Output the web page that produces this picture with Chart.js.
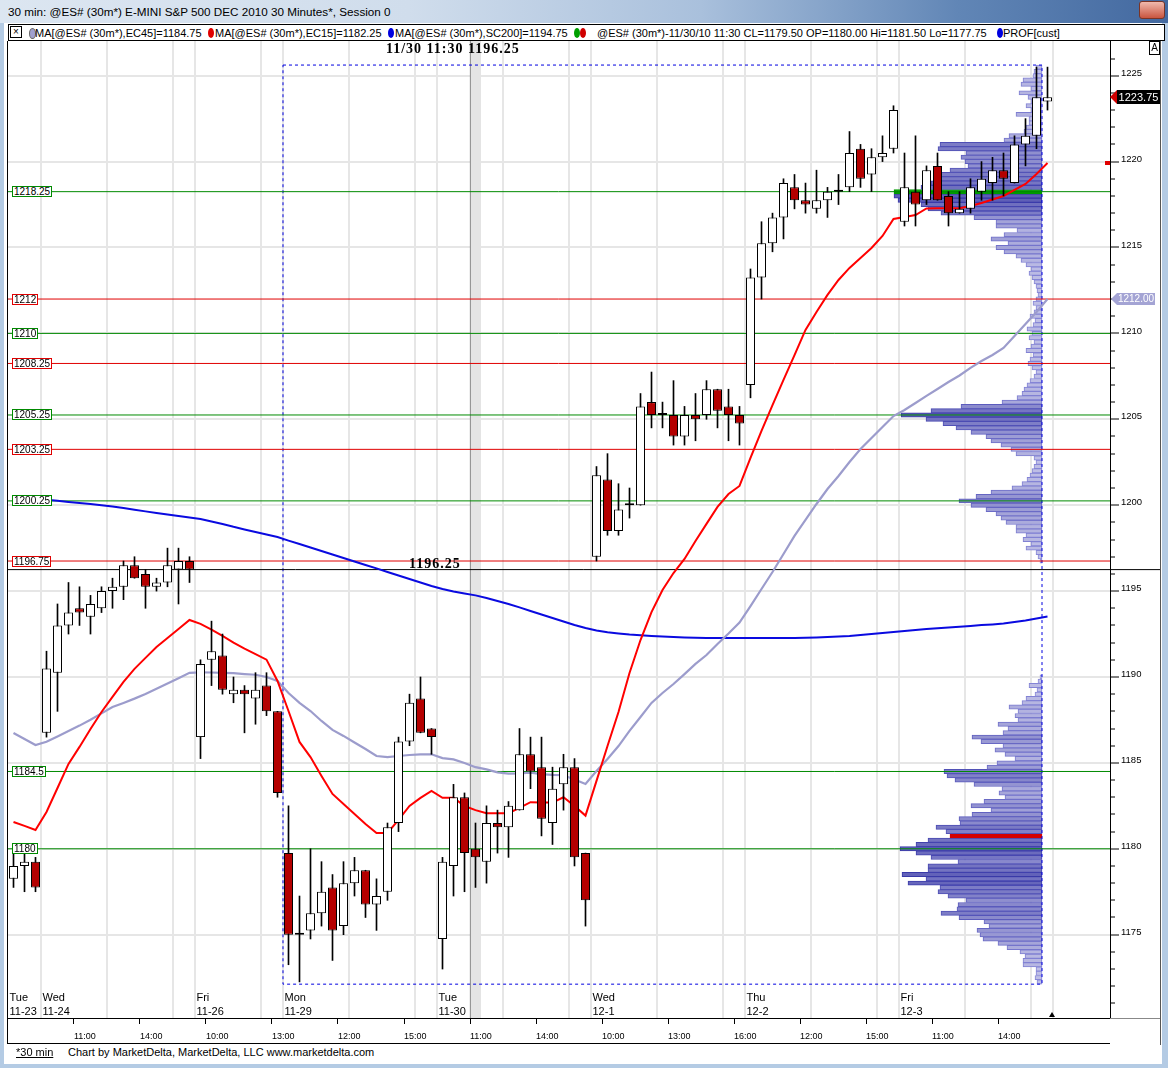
<!DOCTYPE html>
<html><head><meta charset="utf-8">
<script src="https://cdn.jsdelivr.net/npm/chart.js@4.4.1/dist/chart.umd.min.js"></script>
<style>
html,body{margin:0;padding:0;}
body{width:1168px;height:1068px;position:relative;overflow:hidden;background:#b4cbe4;font-family:"Liberation Sans",Arial,sans-serif;}
.a{position:absolute;white-space:nowrap;}
#titlebar{left:0;top:0;width:1168px;height:23px;background:linear-gradient(90deg,#dce6f1 0%,#d0ddec 35%,#a9c0dc 60%,#6186b6 82%,#4369a0 100%);}
#closebtn{left:1139px;top:1px;width:24px;height:16px;background:linear-gradient(#f0b9ad,#c9553f);border:1px solid #7a3426;border-radius:3px;}
#panel{left:4px;top:23px;width:1158px;height:1041px;background:#fff;}
#legend{left:8px;top:24px;width:1155px;height:15px;border:1px solid #000;background:#fff;}
.lt{font-size:11px;top:27px;color:#000;}
.dot{width:6px;height:10px;border-radius:50%;top:28px;}
.lvl{left:12px;font-size:10px;line-height:9px;padding:0 1px;background:#fff;border:1px solid #000;color:#000;}
.day{font-size:11px;color:#000;}
</style></head>
<body>
<div id="titlebar" class="a"></div>
<div class="a" style="left:8px;top:5px;font-size:11.7px;">30 min: @ES# (30m*) E-MINI S&amp;P 500 DEC 2010 30 Minutes*, Session 0</div>
<div id="closebtn" class="a"></div>
<div id="panel" class="a"></div>
<div id="legend" class="a"></div>
<div class="a" style="left:10px;top:26px;width:10px;height:10px;border:1px solid #000;font-size:10px;line-height:10px;text-align:center;">×</div>
<div class="a dot" style="left:29px;background:#a0a0d0;border:1px solid #666;width:5px;height:9px;"></div>
<div class="a lt" style="left:35px;">MA[@ES# (30m*),EC45]=1184.75</div>
<div class="a dot" style="left:208px;background:#e00000;"></div>
<div class="a lt" style="left:215px;">MA[@ES# (30m*),EC15]=1182.25</div>
<div class="a dot" style="left:388px;background:#0000e0;"></div>
<div class="a lt" style="left:395px;">MA[@ES# (30m*),SC200]=1194.75</div>
<div class="a dot" style="left:574px;background:#00a000;"></div>
<div class="a dot" style="left:580px;background:#d00000;"></div>
<div class="a lt" style="left:597px;">@ES# (30m*)-11/30/10 11:30 CL=1179.50 OP=1180.00 Hi=1181.50 Lo=1177.75</div>
<div class="a dot" style="left:997px;background:#0000e0;"></div>
<div class="a lt" style="left:1003px;">PROF[cust]</div>
<canvas id="c" class="a" width="1160" height="1004" style="left:4px;top:41px;"></canvas>
<div id="overlay"></div>
<div class="a" style="left:7px;top:41px;width:0;height:1002px;border-left:1px solid #000;"></div>
<div class="a" style="left:7px;top:1043px;width:1103px;height:0;border-top:1px solid #000;"></div>
<div class="a" style="left:1110px;top:1018px;width:50px;height:0;border-top:1px solid #888;"></div>
<div class="a" style="left:1160px;top:41px;width:0;height:1004px;border-left:1px solid #555;"></div>
<div class="a" style="left:1149px;top:41px;width:9px;height:12px;border:1px solid #000;font-size:10px;line-height:12px;text-align:center;">A</div>
<div class="a" style="left:16px;top:1046px;font-size:11px;text-decoration:underline;">*30 min</div>
<div class="a" style="left:68px;top:1046px;font-size:11px;">Chart by MarketDelta, MarketDelta, LLC www.marketdelta.com</div>
<script>
// ---- Candles (30 min bars, Tue 11-23 15:00 .. Fri 12-3) ----
const opens  = [1178.25,1179,1179.25,1186.75,1190.25,1193,1194,1193.5,1194,1195,1195.25,1196.5,1196,1195.25,1195.5,1196.25,1196.75,1186.5,1191,1191.25,1189,1189.25,1188.75,1189.5,1188,1179.75,1175,1175.25,1176.25,1177.75,1175.5,1178,1178.75,1176.75,1177.5,1181.5,1186.25,1188.75,1187,1174.75,1179,1183,1180,1179.25,1181.5,1181.25,1182.25,1185.5,1184.75,1181.5,1183.75,1184.75,1179.75,1197,1201.5,1198.5,1200,1200,1206,1205.25,1205.25,1204,1205.25,1205.25,1206.75,1205.75,1205.25,1207,1213.25,1215.25,1216.75,1218.5,1217.75,1217.25,1217.75,1218.25,1218.5,1220.75,1219.25,1220.25,1220.75,1216.5,1218.25,1217.75,1219.75,1218,1217,1217.25,1218.25,1218.75,1219.5,1218.75,1221,1221.5,1223.5];
const highs  = [1180,1180.25,1179.5,1191.5,1194.25,1195.5,1195.25,1194.75,1195.25,1195.75,1196.75,1197,1196.25,1195.75,1197.5,1197.5,1197,1191,1193.25,1192.5,1190,1189.5,1190.25,1190.25,1188,1182.5,1177.25,1180,1179.25,1178.5,1179.25,1179.5,1178.75,1178.25,1181.5,1186.5,1189,1190,1187,1179.5,1183.75,1183.25,1181.5,1182.5,1182.25,1182.75,1187,1186.5,1186.5,1184.75,1185.5,1185.25,1179.75,1202.25,1203,1201.25,1201,1206.5,1207.75,1206,1207.25,1205.75,1206.5,1207.25,1206.75,1206.75,1205.75,1213.75,1216.5,1217,1219,1219.25,1218.75,1219.5,1218.5,1219.25,1221.75,1221,1220.75,1221.5,1223.25,1220.5,1221.5,1219.75,1220.5,1218.25,1218.25,1219,1220,1220.25,1220.5,1221.5,1222.5,1225.5,1225.5];
const lows   = [1177.75,1177.5,1177.5,1186.5,1188,1192.5,1193,1192.5,1193.75,1194,1194.5,1195.75,1194,1195,1195.25,1194.25,1195.5,1185.25,1189.5,1189,1188.5,1186.75,1187.25,1187.75,1183,1173.25,1172.25,1174.75,1175.5,1173.5,1175,1177.25,1176,1175.25,1177,1181,1186,1186.75,1185.5,1173,1177.25,1177.5,1177.75,1178,1179.75,1179.5,1182.25,1183.5,1180.75,1180.25,1182.25,1179,1175.5,1196.75,1198.25,1198.25,1199.25,1200,1204.5,1204.5,1203.5,1203.5,1203.75,1205,1204.5,1203.75,1203.5,1206.25,1212,1214.75,1215.5,1217.25,1217,1217,1216.75,1217.5,1218.25,1218.5,1218.25,1220,1220.5,1216.25,1216.25,1217.5,1217.75,1216.25,1217,1217,1217.75,1217.75,1218,1218.75,1219.75,1220.75,1223];
const closes = [1179,1179.25,1177.75,1190.5,1193,1193.75,1193.75,1194.25,1195,1195.25,1196.5,1195.75,1195.25,1195.5,1196.5,1196.75,1196.25,1190.75,1191.5,1189.25,1189.25,1189,1189.25,1188,1183.25,1175,1175,1176.25,1177.5,1175.25,1178,1178.75,1176.75,1177.25,1181.25,1186.25,1188.5,1186.75,1186.5,1179.25,1183,1179.75,1179.5,1181.5,1181.25,1182.5,1185.5,1184.5,1181.75,1183.5,1184.75,1179.5,1177,1201.75,1198.5,1199.75,1200,1205.75,1205.25,1205.25,1204,1205.25,1205,1206.75,1205.5,1205.25,1204.75,1213.25,1215.25,1216.75,1218.75,1217.75,1217.5,1217.75,1218.25,1218.25,1220.5,1219,1220.25,1220.5,1223,1218.5,1217.5,1219.5,1217.75,1217,1217.25,1218.5,1219,1219.5,1219,1221,1221.5,1223.75,1223.75];

// ---- Moving averages ----
const ema45 = [1186.74,1186.39,1186.04,1186.23,1186.54,1186.85,1187.17,1187.51,1187.88,1188.25,1188.49,1188.74,1189.01,1189.31,1189.62,1189.93,1190.24,1190.27,1190.26,1190.24,1190.22,1190.17,1190.13,1190.0,1189.77,1189.07,1188.49,1188.02,1187.44,1186.92,1186.57,1186.19,1185.81,1185.4,1185.33,1185.4,1185.46,1185.49,1185.5,1185.28,1185.2,1184.99,1184.75,1184.62,1184.45,1184.37,1184.39,1184.43,1184.35,1184.3,1184.28,1184.03,1183.77,1184.53,1185.23,1185.98,1186.86,1187.67,1188.49,1189.07,1189.59,1190.17,1190.76,1191.28,1191.92,1192.53,1193.17,1194.13,1195.12,1196.11,1197.16,1198.21,1199.14,1200.07,1200.94,1201.7,1202.51,1203.27,1203.91,1204.55,1205.19,1205.54,1205.95,1206.36,1206.76,1207.17,1207.55,1207.99,1208.39,1208.74,1209.15,1209.85,1210.55,1211.25,1212.0];
const ema15 = [1181.56,1181.33,1181.09,1182.14,1183.54,1184.94,1185.93,1186.97,1187.96,1188.84,1189.71,1190.47,1191.11,1191.75,1192.27,1192.79,1193.32,1193.09,1192.76,1192.39,1192.0,1191.65,1191.33,1191.01,1189.77,1188.02,1186.22,1185.34,1184.24,1183.19,1182.61,1182.03,1181.44,1180.92,1180.92,1181.68,1182.49,1182.96,1183.37,1182.97,1182.97,1182.49,1182.25,1182.07,1182.07,1182.07,1182.38,1182.71,1182.7,1182.69,1183.0,1182.49,1181.93,1183.95,1185.98,1187.96,1190.23,1192.15,1193.78,1195.06,1196.05,1196.87,1197.92,1198.91,1199.9,1200.65,1201.12,1202.75,1204.32,1205.83,1207.29,1208.74,1210.2,1211.25,1212.24,1213.11,1213.81,1214.39,1214.97,1215.67,1216.66,1216.78,1216.89,1217.27,1217.28,1217.28,1217.28,1217.42,1217.59,1217.79,1218.0,1218.35,1218.7,1219.28,1219.92];
const sma200 = [1200.45,1200.41,1200.36,1200.31,1200.26,1200.19,1200.13,1200.07,1200.0,1199.92,1199.83,1199.74,1199.64,1199.55,1199.46,1199.37,1199.28,1199.2,1199.05,1198.91,1198.74,1198.59,1198.44,1198.29,1198.15,1197.94,1197.74,1197.54,1197.33,1197.13,1196.93,1196.72,1196.52,1196.32,1196.11,1195.91,1195.7,1195.5,1195.3,1195.12,1194.98,1194.86,1194.75,1194.6,1194.42,1194.25,1194.05,1193.84,1193.64,1193.43,1193.23,1193.03,1192.85,1192.71,1192.6,1192.53,1192.47,1192.43,1192.39,1192.36,1192.33,1192.3,1192.28,1192.27,1192.27,1192.27,1192.27,1192.27,1192.27,1192.27,1192.27,1192.27,1192.28,1192.3,1192.33,1192.36,1192.39,1192.44,1192.5,1192.56,1192.62,1192.68,1192.74,1192.79,1192.84,1192.88,1192.92,1192.97,1193.02,1193.06,1193.11,1193.2,1193.29,1193.41,1193.52];

// ---- Volume profile (Mon 11-29 .. Fri 12-3), relative volume per 0.25 row ----
const profilePrices = [1172.25,1172.5,1172.75,1173,1173.25,1173.5,1173.75,1174,1174.25,1174.5,1174.75,1175,1175.25,1175.5,1175.75,1176,1176.25,1176.5,1176.75,1177,1177.25,1177.5,1177.75,1178,1178.25,1178.5,1178.75,1179,1179.25,1179.5,1179.75,1180,1180.25,1180.5,1180.75,1181,1181.25,1181.5,1181.75,1182,1182.25,1182.5,1182.75,1183,1183.25,1183.5,1183.75,1184,1184.25,1184.5,1184.75,1185,1185.25,1185.5,1185.75,1186,1186.25,1186.5,1186.75,1187,1187.25,1187.5,1187.75,1188,1188.25,1188.5,1188.75,1189,1189.25,1189.5,1189.75,1190,
1196.75,1197,1197.25,1197.5,1197.75,1198,1198.25,1198.5,1198.75,1199,1199.25,1199.5,1199.75,1200,1200.25,1200.5,1200.75,1201,1201.25,1201.5,1201.75,1202,1202.25,1202.5,1202.75,1203,1203.25,1203.5,1203.75,1204,1204.25,1204.5,1204.75,1205,1205.25,1205.5,1205.75,1206,1206.25,1206.5,1206.75,1207,1207.25,1207.5,1207.75,1208,1208.25,1208.5,1208.75,1209,1209.25,1209.5,1209.75,1210,1210.25,1210.5,1210.75,1211,1211.25,1211.5,1211.75,1212,1212.25,1212.5,1212.75,1213,1213.25,1213.5,1213.75,1214,1214.25,1214.5,1214.75,1215,1215.25,1215.5,1215.75,1216,1216.25,1216.5,1216.75,1217,1217.25,1217.5,1217.75,1218,1218.25,1218.5,1218.75,1219,1219.25,1219.5,1219.75,1220,1220.25,1220.5,1220.75,1221,1221.25,1221.5,1221.75,1222,1222.25,1222.5,1222.75,1223,1223.25,1223.5,1223.75,1224,1224.25,1224.5,1224.75,1225,1225.25,1225.5];
const profileVolume = [5,7,6,6,19,19,17,22,35,44,59,62,65,53,58,83,101,85,84,76,94,104,102,134,116,140,114,114,84,111,126,142,126,114,92,96,106,82,83,70,51,71,58,37,43,40,68,87,95,98,55,45,27,37,47,39,61,70,39,34,44,24,27,24,33,20,16,7,5,13,4,2,
2,4,6,16,11,19,16,26,26,36,41,46,56,71,83,66,51,30,20,15,12,10,8,6,8,26,31,41,51,56,71,86,99,116,141,111,81,40,25,20,18,15,12,8,6,10,14,12,9,16,11,8,13,10,15,9,7,12,8,6,9,6,4,5,6,8,10,13,11,16,21,26,38,46,34,51,38,25,46,46,68,101,114,121,144,148,148,121,111,104,101,92,74,77,81,76,104,102,38,33,18,16,13,13,26,11,16,11,14,23,11,21,19,9,8,6];
const profileMarkPrices = [1180.75, 1218.25];
const profileMarkColors = ['#d40000', '#009a00'];
const profileStartBar = 24.5, profileEndBar = 93.5, profileHigh = 1225.62, profileLow = 1172.12;

// ---- Levels, ticks, labels ----
const levelPrices = [1218.25, 1212, 1210, 1208.25, 1205.25, 1203.25, 1200.25, 1196.75, 1184.5, 1180];
const levelLabels = ['1218.25','1212','1210','1208.25','1205.25','1203.25','1200.25','1196.75','1184.5','1180'];
const levelColors = ['#008a00','#e00000','#008a00','#e00000','#008a00','#e00000','#008a00','#e00000','#008a00','#008a00'];
const timeTickBars = [6,12,18,24,30,36,42,48,54,60,66,72,78,84,90];
const timeTickLabels = ['11:00','14:00','10:00','13:00','12:00','15:00','11:00','14:00','10:00','13:00','16:00','12:00','15:00','11:00','14:00'];
const dayStartBars = [0,3,17,25,39,53,67,81];
const dayNames = ['Tue','Wed','Fri','Mon','Tue','Wed','Thu','Fri'];
const dayDates = ['11-23','11-24','11-26','11-29','11-30','12-1','12-2','12-3'];
const gridBars = [2.5,8.5,14.5,16.5,22.5,24.5,30.5,36.5,38.5,44.5,50.5,52.5,58.5,64.5,66.5,72.5,78.5,80.5,86.5,92.5,94.5];
const crossBar = 42, crossPrice = 1196.25;

// ---- view ranges ----
const xMin = -0.5909, xMax = 99.6818, yMin = 1170.15, yMax = 1227.02;
const profUnitsPerBar = 11;
const profXMin = -(xMax - profileEndBar) * profUnitsPerBar, profXMax = (profileEndBar - xMin) * profUnitsPerBar;

Chart.defaults.font.family = '"Liberation Sans", Arial, sans-serif';
const idx = opens.map((_, i) => i);
const maxVol = Math.max(...profileVolume);
function lerp(a, b, t) { return Math.round(a + (b - a) * t); }
const profFill = profilePrices.map((p, k) => {
  const m = profileMarkPrices.indexOf(p);
  if (m >= 0) return profileMarkColors[m];
  const t = Math.min(1, profileVolume[k] / maxVol);
  return `rgb(${lerp(196,92,t)},${lerp(196,92,t)},${lerp(232,182,t)})`;
});
const profBorder = profilePrices.map((p, k) => {
  const m = profileMarkPrices.indexOf(p);
  if (m >= 0) return profileMarkColors[m];
  const t = Math.min(1, profileVolume[k] / maxVol);
  return `rgb(${lerp(140,52,t)},${lerp(140,52,t)},${lerp(218,165,t)})`;
});
const noPad = ax => { ax.paddingTop = 0; ax.paddingBottom = 0; ax.paddingLeft = 0; ax.paddingRight = 0; };

const datasets = [];
datasets.push({ type:'bar', label:'body', order:1, grouped:false, categoryPercentage:1, barPercentage:9/11, minBarLength:2,
  data: idx.map(i => ({x:i, y:[Math.min(opens[i], closes[i]), Math.max(opens[i], closes[i])]})),
  backgroundColor: idx.map(i => closes[i] >= opens[i] ? '#ffffff' : '#b40000'),
  borderColor:'#000', borderWidth:1, borderSkipped:false });
datasets.push({ type:'bar', label:'wick', order:2, grouped:false, categoryPercentage:1, barPercentage:1, maxBarThickness:1,
  data: idx.map(i => ({x:i, y:[lows[i], highs[i]]})), backgroundColor:'#000', borderWidth:0 });
datasets.push({ type:'line', label:'EC15', order:3, data: idx.map(i => ({x:i, y:ema15[i]})), borderColor:'#ff0000', borderWidth:2, pointRadius:0, tension:0 });
datasets.push({ type:'line', label:'EC45', order:4, data: idx.map(i => ({x:i, y:ema45[i]})), borderColor:'#9c9ccc', borderWidth:2.2, pointRadius:0, tension:0 });
datasets.push({ type:'line', label:'SC200', order:5, data: idx.map(i => ({x:i, y:sma200[i]})), borderColor:'#0a0ae0', borderWidth:2, pointRadius:0, tension:0 });
datasets.push({ type:'line', label:'cross', order:6, clip:false, data:[{x:xMin, y:crossPrice},{x:xMax + 4.6, y:crossPrice}], borderColor:'#000', borderWidth:1, pointRadius:0 });
levelPrices.forEach((v, k) => datasets.push({ type:'line', label:'lvl'+k, order:7, data:[{x:xMin,y:v},{x:xMax,y:v}], borderColor:levelColors[k], borderWidth:1, pointRadius:0 }));
datasets.push({ type:'line', label:'box', order:8, data:[{x:profileStartBar,y:profileHigh},{x:profileEndBar,y:profileHigh},{x:profileEndBar,y:profileLow},{x:profileStartBar,y:profileLow},{x:profileStartBar,y:profileHigh}],
  borderColor:'#0000e0', borderWidth:1, borderDash:[3,3], pointRadius:0, fill:false });
datasets.push({ type:'bar', label:'profile', order:9, indexAxis:'y', xAxisID:'x2', yAxisID:'y2', grouped:false, categoryPercentage:1, barPercentage:1,
  data: profilePrices.map((p, k) => ({x: profileVolume[k], y: p})), backgroundColor: profFill, borderColor: profBorder, borderWidth:1, borderSkipped:false });
datasets.push({ type:'bar', label:'band', order:10, grouped:false, categoryPercentage:1, barPercentage:1,
  data:[{x:crossBar, y:[yMin, yMax]}], backgroundColor:'#e4e4e4', borderColor:'#707070', borderWidth:{left:1, right:0, top:0, bottom:0}, borderSkipped:false });

const chart = new Chart(document.getElementById('c').getContext('2d'), {
  type:'bar',
  data:{ datasets },
  options:{
    responsive:false, animation:false, events:[],
    layout:{ padding:{ left:3, top:0, right:0, bottom:0 } },
    plugins:{ legend:{display:false}, tooltip:{enabled:false} },
    scales:{
      x:{ type:'linear', position:'bottom', min:xMin, max:xMax, offset:false,
        grid:{ offset:false, drawOnChartArea:false, drawTicks:true, tickLength:6, tickColor:'#000', tickWidth:1 },
        border:{ display:true, color:'#000', width:1 },
        afterBuildTicks: ax => { ax.ticks = timeTickBars.map(b => ({ value: b - 0.5 })); },
        afterFit: ax => { ax.height = 27; noPad(ax); },
        ticks:{ autoSkip:false, maxRotation:0, minRotation:0, align:'start', padding:7, color:'#000', font:{ size:9 },
          callback:(v, i) => timeTickLabels[i] } },
      xg:{ type:'linear', position:'top', min:xMin, max:xMax, offset:false,
        grid:{ offset:false, drawTicks:false, color:'#e6e6e6', lineWidth:2 }, border:{ display:false }, ticks:{ display:false },
        afterBuildTicks: ax => { ax.ticks = gridBars.map(v => ({ value:v })); }, afterFit: ax => { ax.height = 0; noPad(ax); } },
      y:{ type:'linear', position:'right', min:yMin, max:yMax, beginAtZero:false, offset:false,
        afterBuildTicks: ax => { ax.ticks = ax.ticks.filter(t => Number.isInteger(t.value)); },
        afterFit: ax => { ax.width = 54; noPad(ax); },
        grid:{ offset:false, color: c => (c.tick && c.tick.value % 5 === 0) ? '#e6e6e6' : 'rgba(0,0,0,0)', lineWidth:2,
          tickLength:9, tickColor:'#000', tickWidth:1,
          tickBorderDash: c => (c.tick && c.tick.value % 5 === 0) ? [] : [4, 40] },
        border:{ display:true, color:'#000', width:1 },
        ticks:{ stepSize:1, maxTicksLimit:200, autoSkip:false, padding:2, labelOffset:-2.5, color:'#000', font:{ size:9.5 },
          callback: v => (v % 5 === 0) ? String(v) : '' } },
      x2:{ type:'linear', display:false, min:profXMin, max:profXMax, reverse:true, offset:false, grid:{offset:false} },
      y2:{ type:'linear', display:false, min:yMin, max:yMax, beginAtZero:false, offset:false, grid:{offset:false} }
    }
  }
});

// ---- text overlays positioned from the chart scales ----
const ov = document.getElementById('overlay');
const CX = 4, CY = 41;
function add(html, style, cls) { const d = document.createElement('div'); d.className = 'a ' + (cls || ''); d.innerHTML = html; d.style.cssText += style; ov.appendChild(d); return d; }
const xs = chart.scales.x, ys = chart.scales.y;
dayStartBars.forEach((b, k) => {
  const px = xs.getPixelForValue(b) + CX - 4;
  add(dayNames[k], `left:${px}px;top:991px;`, 'day');
  add(dayDates[k], `left:${px}px;top:1005px;`, 'day');
});
levelPrices.forEach((v, k) => {
  const py = ys.getPixelForValue(v) + CY;
  add(levelLabels[k], `top:${py - 5.5}px;border-color:${levelColors[k]};`, 'lvl');
});
add('11/30 11:30 1196.25', 'left:386px;top:41px;font:bold 14px "Liberation Serif",serif;letter-spacing:1px;');
add('1196.25', `left:409px;top:${ys.getPixelForValue(crossPrice) + CY - 14}px;font:bold 14px "Liberation Serif",serif;letter-spacing:1px;`);
const lastClose = closes[closes.length - 1];
const lc = ys.getPixelForValue(lastClose) + CY;
add('', `left:1110px;top:${lc - 7}px;width:0;height:0;border-top:7px solid transparent;border-bottom:7px solid transparent;border-right:7px solid #d00000;`);
add(lastClose.toFixed(2), `left:1117px;top:${lc - 7}px;width:43px;height:14px;background:#000;color:#fff;font-size:11px;line-height:14px;text-align:center;`);
const le = ys.getPixelForValue(ema45[ema45.length - 1]) + CY;
add('', `left:1111px;top:${le - 6}px;width:0;height:0;border-top:6px solid transparent;border-bottom:6px solid transparent;border-right:6px solid #a4a4d4;`);
add(ema45[ema45.length - 1].toFixed(2), `left:1117px;top:${le - 6}px;width:38px;height:12px;background:#a4a4d4;color:#fff;font-size:10px;line-height:12px;text-align:center;`);
const lr = ys.getPixelForValue(ema15[ema15.length - 1]) + CY;
add('', `left:1105px;top:${lr - 2}px;width:5px;height:4px;background:#e00000;`);
add('', `left:1049px;top:1012px;width:0;height:0;border-left:3px solid transparent;border-right:3px solid transparent;border-bottom:5px solid #000;`);
</script>
</body></html>
